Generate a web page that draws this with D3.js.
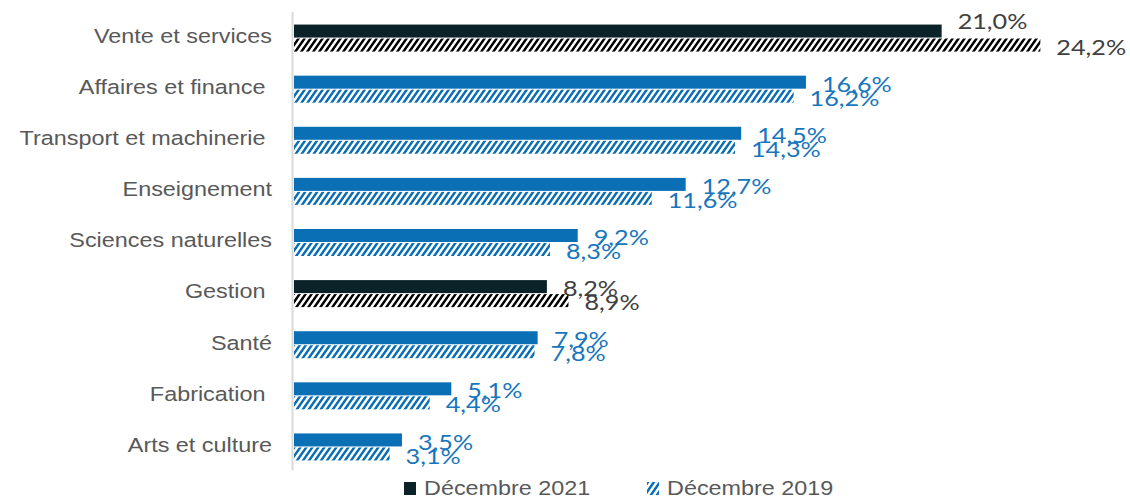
<!DOCTYPE html>
<html>
<head>
<meta charset="utf-8">
<script src="https://cdn.jsdelivr.net/npm/d3@7"></script>
<style>
  html, body { margin: 0; padding: 0; background: #ffffff; }
  svg { display: block; }
  text { white-space: pre; }
</style>
</head>
<body>
<svg id="chart" width="1130" height="500"></svg>
<script>
// Occupations, share of job postings
const categories = [
  "Vente et services",
  "Affaires et finance ",
  "Transport et machinerie ",
  "Enseignement",
  "Sciences naturelles",
  "Gestion ",
  "Santé",
  "Fabrication ",
  "Arts et culture"
];
const dec2021 = [21.0, 16.6, 14.5, 12.7, 9.2, 8.2, 7.9, 5.1, 3.5];
const dec2019 = [24.2, 16.2, 14.3, 11.6, 8.3, 8.9, 7.8, 4.4, 3.1];
// categories drawn in the dark accent colour
const emphasised = ["Vente et services", "Gestion "];
const seriesNames = ["Décembre 2021", "Décembre 2019"];

const DARK = "#0b2229";
const BLUE = "#0a6fb5";
const DARK_TEXT = "#404040";
const BLUE_TEXT = "#1776bd";
const GREY_TEXT = "#595959";
const STRETCH = 1.2; // horizontal text stretch of the layout

const svg = d3.select("#chart");

// hatch patterns for the 2019 series
const defs = svg.append("defs");
function hatch(id, color) {
  const p = defs.append("pattern")
    .attr("id", id)
    .attr("patternUnits", "userSpaceOnUse")
    .attr("width", 6).attr("height", 6)
    .attr("patternTransform", "skewX(-35)");
  p.append("rect").attr("width", 6).attr("height", 6).attr("fill", "#ffffff");
  p.append("rect").attr("width", 3).attr("height", 6).attr("fill", color);
}
hatch("hatch-dark", "#000000");
hatch("hatch-blue", BLUE);

const x = d3.scaleLinear().domain([0, 25]).range([294, 1065]);
const y = d3.scaleBand().domain(categories).range([12.5, 472.5]).padding(0);

const barH = 13, gap = 1;
const fmt = v => d3.format(".1f")(v).replace(".", ",") + "%";

function place(sel, px, py) {
  return sel.attr("x", 0).attr("y", 0)
    .attr("transform", `translate(${px},${py}) scale(${STRETCH},1)`);
}

const rows = categories.map((c, i) => ({
  cat: c, v21: dec2021[i], v19: dec2019[i], dark: emphasised.includes(c)
}));

// axis line
svg.append("line")
  .attr("x1", 292.5).attr("x2", 292.5)
  .attr("y1", y.range()[0] - 0.5).attr("y2", y.range()[1] - 2)
  .attr("stroke", "#d9d9d9").attr("stroke-width", 2);

// category labels
rows.forEach(r => {
  const t = svg.append("text")
    .attr("text-anchor", "end")
    .attr("dominant-baseline", "central")
    .attr("font-family", "Liberation Sans, Arial, sans-serif")
    .attr("font-size", 19.5)
    .attr("fill", GREY_TEXT)
    .text(r.cat);
  place(t, 272, y(r.cat) + y.bandwidth() / 2 - 1.5);
});

const g = svg.append("g");
rows.forEach(r => {
  const cy = y(r.cat) + y.bandwidth() / 2;
  const top = cy - barH - gap / 2;
  const bot = cy + gap / 2;
  g.append("rect")
    .attr("x", x(0)).attr("y", top)
    .attr("width", x(r.v21) - x(0)).attr("height", barH)
    .attr("fill", r.dark ? DARK : BLUE);
  g.append("rect")
    .attr("x", x(0)).attr("y", bot)
    .attr("width", x(r.v19) - x(0)).attr("height", barH)
    .attr("fill", r.dark ? "url(#hatch-dark)" : "url(#hatch-blue)");

  const col = r.dark ? DARK_TEXT : BLUE_TEXT;
  // lift the 2021 label above its bar when the 2019 bar runs past it
  const lift = x(r.v19) - x(r.v21) > 30 ? -12 : 0;
  const t1 = g.append("text")
    .attr("dominant-baseline", "central")
    .attr("font-family", "Lato, sans-serif")
    .attr("font-size", 21)
    .attr("fill", col)
    .text(fmt(r.v21));
  place(t1, x(r.v21) + 16, top + barH / 2 + 1.5 + lift);
  const t2 = g.append("text")
    .attr("dominant-baseline", "central")
    .attr("font-family", "Lato, sans-serif")
    .attr("font-size", 21)
    .attr("fill", col)
    .text(fmt(r.v19));
  place(t2, x(r.v19) + 16, bot + barH / 2 + 1.5);
});

// legend
const legend = svg.append("g");
const legendItems = [
  { name: seriesNames[0], fill: DARK, x: 404 },
  { name: seriesNames[1], fill: "url(#hatch-blue)", x: 647 }
];
legendItems.forEach(d => {
  legend.append("rect")
    .attr("x", d.x).attr("y", 482)
    .attr("width", 12).attr("height", 13)
    .attr("fill", d.fill);
  const t = legend.append("text")
    .attr("dominant-baseline", "central")
    .attr("font-family", "Liberation Sans, Arial, sans-serif")
    .attr("font-size", 19.5)
    .attr("fill", GREY_TEXT)
    .text(d.name);
  place(t, d.x + 20, 488.5);
});
</script>
</body>
</html>
